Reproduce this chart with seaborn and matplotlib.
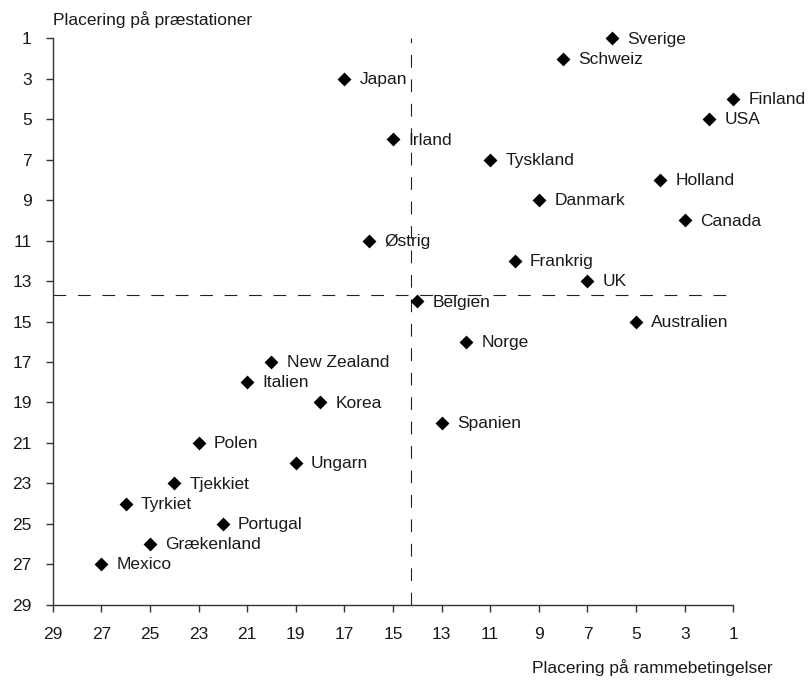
"""
Scatter plot of country rankings: framework conditions (x) vs. performance (y).
Both axes are rankings, so they run from 29 down to 1 (best rank top/right).
"""

import matplotlib
matplotlib.use("Agg")
import matplotlib.pyplot as plt
import pandas as pd
import seaborn as sns

# Country names and their two rankings.
countries = [
    "Sverige", "Schweiz", "Japan", "Finland", "USA", "Irland", "Tyskland",
    "Holland", "Danmark", "Canada", "Østrig", "Frankrig", "UK", "Belgien",
    "Australien", "Norge", "New Zealand", "Italien", "Korea", "Spanien",
    "Polen", "Ungarn", "Tjekkiet", "Tyrkiet", "Portugal", "Grækenland", "Mexico",
]
rammebetingelser = [6, 8, 17, 1, 2, 15, 11, 4, 9, 3, 16, 10, 7, 14, 5, 12,
                    20, 21, 18, 13, 23, 19, 24, 26, 22, 25, 27]
praestationer = [1, 2, 3, 4, 5, 6, 7, 8, 9, 10, 11, 12, 13, 14, 15, 16,
                 17, 18, 19, 20, 21, 22, 23, 24, 25, 26, 27]

# Averages shown as dashed reference lines.
avg_ramme = 14.24
avg_praest = 13.69

tick_values = list(range(1, 30, 2))

df = pd.DataFrame({
    "Land": countries,
    "Ramme": rammebetingelser,
    "Praest": praestationer,
})

sns.set_theme(style="white")
plt.rcParams["font.family"] = ["Liberation Sans", "DejaVu Sans"]

fig = plt.figure(figsize=(8.08, 6.85), dpi=100, facecolor="white")
ax = fig.add_axes([0.0652, 0.1172, 0.8424, 0.8268])

sns.scatterplot(data=df, x="Ramme", y="Praest", marker="D", color="black",
                s=50, linewidth=0, ax=ax, zorder=3)
# Markers on the edge (Sverige, Finland) must not be cut off.
for coll in ax.collections:
    coll.set_clip_on(False)

# Country names to the right of each marker.
for name, xv, yv in zip(df["Land"], df["Ramme"], df["Praest"]):
    ax.annotate(name, (xv, yv), xytext=(11, -0.5), textcoords="offset points",
                ha="left", va="center", fontsize=12.5, color="#1a1a1a",
                annotation_clip=False)

# Dashed lines for the averages.
dash = (0, (11.5, 10.5))
ax.axvline(avg_ramme, color="#222222", lw=0.8, linestyle=dash, zorder=1)
ax.axhline(avg_praest, color="#222222", lw=0.8, linestyle=dash, zorder=1)

# Rankings: reverse both axes.
ax.set_xlim(29, 1)
ax.set_ylim(29, 1)
ax.set_xticks(tick_values)
ax.set_yticks(tick_values)

ax.set_xlabel("")
ax.set_ylabel("")
for side in ["top", "right"]:
    ax.spines[side].set_visible(False)
for side in ["left", "bottom"]:
    ax.spines[side].set_color("#333333")
    ax.spines[side].set_linewidth(1.0)

ax.tick_params(axis="both", direction="out", length=5, width=1.0,
               color="#333333", labelsize=12.5, labelcolor="#1a1a1a")
ax.tick_params(axis="x", pad=11, bottom=True)
ax.tick_params(axis="y", pad=10, left=True)

fig.text(53 / 808, 1 - 20 / 685, "Placering på præstationer", ha="left",
         va="center", fontsize=12.5, color="#1a1a1a")
fig.text(773 / 808, 1 - 668 / 685, "Placering på rammebetingelser", ha="right",
         va="center", fontsize=12.5, color="#1a1a1a")

fig.savefig("out.png", dpi=100, facecolor="white")
